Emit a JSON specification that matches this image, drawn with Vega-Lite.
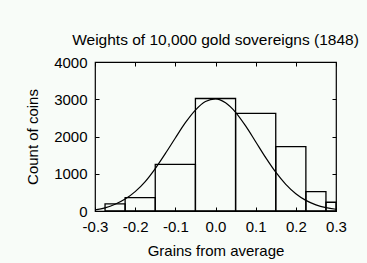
{
  "$schema": "https://vega.github.io/schema/vega-lite/v6.json",
  "width": 241,
  "height": 149,
  "autosize": {"type": "none"},
  "padding": {"left": 95, "top": 62, "right": 31, "bottom": 52},
  "background": "#f8fcf8",
  "title": {"text": "Weights of 10,000 gold sovereigns (1848)"},
  "config": {
    "title": {"font": "Liberation Sans", "fontSize": 15.5, "fontWeight": "normal", "color": "#000", "anchor": "middle", "frame": "group", "offset": 7},
    "locale": {"number": {"decimal": ".", "thousands": ",", "grouping": [3], "currency": ["$", ""], "minus": "-"}},
    "view": {"stroke": "#000", "strokeWidth": 1.2, "fill": "#f8fcf8"},
    "axis": {"labelFont": "Liberation Sans", "titleFont": "Liberation Sans", "labelFontSize": 15, "titleFontSize": 15, "titleFontWeight": "normal", "labelColor": "#000", "titleColor": "#000", "tickColor": "#000", "domain": false, "grid": false, "tickSize": -4, "tickWidth": 1}
  },
  "datasets": {
    "bins": [
      {"lo": -0.275, "hi": -0.225, "count": 190},
      {"lo": -0.225, "hi": -0.15, "count": 360},
      {"lo": -0.15, "hi": -0.05, "count": 1250},
      {"lo": -0.05, "hi": 0.05, "count": 3020},
      {"lo": 0.05, "hi": 0.15, "count": 2620},
      {"lo": 0.15, "hi": 0.225, "count": 1730},
      {"lo": 0.225, "hi": 0.275, "count": 520},
      {"lo": 0.275, "hi": 0.3, "count": 235}
    ],
    "curve": [
      {"g": -0.3, "n": 30}, {"g": -0.275, "n": 85}, {"g": -0.25, "n": 180}, {"g": -0.225, "n": 320},
      {"g": -0.2, "n": 520}, {"g": -0.175, "n": 790}, {"g": -0.15, "n": 1140}, {"g": -0.125, "n": 1540},
      {"g": -0.1, "n": 1960}, {"g": -0.075, "n": 2370}, {"g": -0.05, "n": 2710}, {"g": -0.025, "n": 2940},
      {"g": 0.0, "n": 3010}, {"g": 0.025, "n": 2905}, {"g": 0.05, "n": 2650}, {"g": 0.075, "n": 2284},
      {"g": 0.1, "n": 1860}, {"g": 0.125, "n": 1432}, {"g": 0.15, "n": 1041}, {"g": 0.175, "n": 716},
      {"g": 0.2, "n": 464}, {"g": 0.225, "n": 285}, {"g": 0.25, "n": 165}, {"g": 0.275, "n": 90},
      {"g": 0.3, "n": 47}
    ]
  },
  "layer": [
    {
      "data": {"name": "bins"},
      "mark": {"type": "rect", "fill": "#f8fcf8", "fillOpacity": 0, "stroke": "#000", "strokeWidth": 1.3},
      "encoding": {
        "x": {"field": "lo", "type": "quantitative", "scale": {"domain": [-0.3, 0.3], "nice": false, "zero": false}, "axis": {"title": "Grains from average", "values": [-0.3, -0.2, -0.1, 0, 0.1, 0.2, 0.3], "format": ".1f", "labelPadding": 12, "titlePadding": 9, "labelFlush": false}},
        "x2": {"field": "hi"},
        "y": {"field": "count", "type": "quantitative", "scale": {"domain": [0, 4000], "nice": false}, "axis": {"title": "Count of coins", "values": [0, 1000, 2000, 3000, 4000], "format": "d", "labelPadding": 12, "titlePadding": 13}},
        "y2": {"datum": 0}
      }
    },
    {
      "data": {"name": "curve"},
      "mark": {"type": "line", "color": "#000", "strokeWidth": 1.2, "interpolate": "monotone", "clip": true},
      "encoding": {
        "x": {"field": "g", "type": "quantitative", "scale": {"domain": [-0.3, 0.3], "nice": false, "zero": false}, "axis": {"orient": "top", "title": null, "labels": false, "minExtent": 0, "maxExtent": 0, "values": [-0.3, -0.2, -0.1, 0, 0.1, 0.2, 0.3]}},
        "y": {"field": "n", "type": "quantitative", "scale": {"domain": [0, 4000], "nice": false}, "axis": {"orient": "right", "title": null, "labels": false, "minExtent": 0, "maxExtent": 0, "values": [0, 1000, 2000, 3000, 4000]}}
      }
    }
  ],
  "resolve": {"scale": {"x": "independent", "y": "independent"}}
}
